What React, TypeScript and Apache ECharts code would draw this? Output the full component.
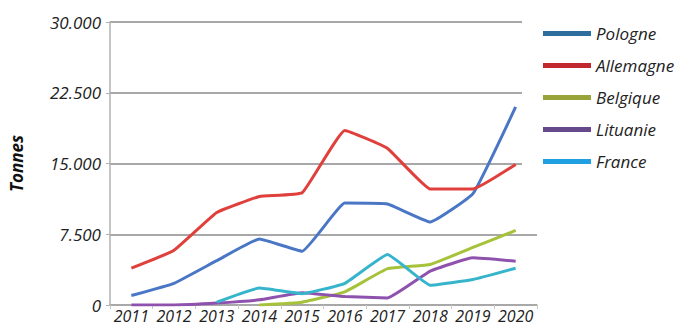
import React, { useEffect, useRef } from "react";
import * as echarts from "echarts";

const years = ["2011", "2012", "2013", "2014", "2015", "2016", "2017", "2018", "2019", "2020"];
const seriesNames = ["Pologne", "Allemagne", "Belgique", "Lituanie", "France"];
const pologne = [1000, 2300, 4700, 7000, 5700, 10800, 10700, 8800, 11800, 21000];
const allemagne = [3900, 5800, 9800, 11500, 11900, 18500, 16600, 12300, 12300, 14900];
const belgique = [null, null, null, 0, 300, 1400, 3850, 4300, 6100, 7900];
const lituanie = [0, 0, 200, 550, 1300, 900, 750, 3600, 5000, 4650];
const france = [null, null, 300, 1800, 1200, 2300, 5350, 2100, 2700, 3900];
const yTickValues = [0, 7500, 15000, 22500, 30000];
const yTickLabels = ["0", "7.500", "15.000", "22.500", "30.000"];

const lineColors = ["#4a76c6", "#e0403c", "#a6c23a", "#8e52ae", "#36b4cc"];
const legendColors = ["#2e6e9e", "#c0282d", "#98a33a", "#66498a", "#20a0e0"];

export default function App() {
  const ref = useRef<HTMLDivElement>(null);
  useEffect(() => {
    if (!ref.current) return;
    const chart = echarts.init(ref.current, null, { renderer: "svg" });
    const data = [pologne, allemagne, belgique, lituanie, france];
    const font = "'Open Sans', 'Noto Sans', sans-serif";
    chart.setOption({
      animation: false,
      backgroundColor: "#ffffff",
      grid: { left: 103, right: 149, top: 22, bottom: 26 },
      legend: {
        orient: "vertical",
        left: 522,
        top: 5,
        padding: [20, 20, 20, 21],
        backgroundColor: "#ffffff",
        itemWidth: 48,
        itemHeight: 5,
        itemGap: 15,
        icon: "rect",
        textStyle: { fontFamily: font, fontStyle: "italic", fontSize: 17, color: "#222" },
        data: seriesNames.map((n, i) => ({ name: n, itemStyle: { color: legendColors[i] } })),
      },
      xAxis: {
        type: "category",
        data: years,
        boundaryGap: true,
        axisLine: { lineStyle: { color: "#a8a8a8", width: 1.5 } },
        axisTick: { show: true, length: 4, lineStyle: { color: "#c8c8c8" } },
        axisLabel: {
          interval: 0,
          margin: 3,
          fontFamily: font,
          fontStyle: "italic",
          fontSize: 16,
          color: "#222",
        },
      },
      yAxis: {
        type: "value",
        min: 0,
        max: 30000,
        interval: 7500,
        name: "Tonnes",
        nameLocation: "middle",
        nameGap: 85,
        nameRotate: 90,
        nameTextStyle: {
          fontFamily: font,
          fontStyle: "italic",
          fontWeight: "bold",
          fontSize: 17,
          color: "#111",
        },
        axisLine: { show: true, lineStyle: { color: "#b0b0b0", width: 1.5 } },
        axisTick: { show: true, length: 4, lineStyle: { color: "#b0b0b0" } },
        splitLine: { lineStyle: { color: "#a8a8a8", width: 2 } },
        axisLabel: {
          margin: 9,
          fontFamily: font,
          fontStyle: "italic",
          fontSize: 17,
          color: "#222",
          formatter: (v: number) => {
            const idx = yTickValues.indexOf(v);
            return idx >= 0 ? yTickLabels[idx] : String(v);
          },
        },
      },
      series: seriesNames.map((n, i) => ({
        name: n,
        type: "line",
        data: data[i],
        smooth: 0.1,
        showSymbol: false,
        symbol: "none",
        color: lineColors[i],
        lineStyle: { width: 3, color: lineColors[i] },
      })),
    });
    return () => chart.dispose();
  }, []);
  return <div ref={ref} style={{ width: 686, height: 331, margin: -8 }} />;
}
